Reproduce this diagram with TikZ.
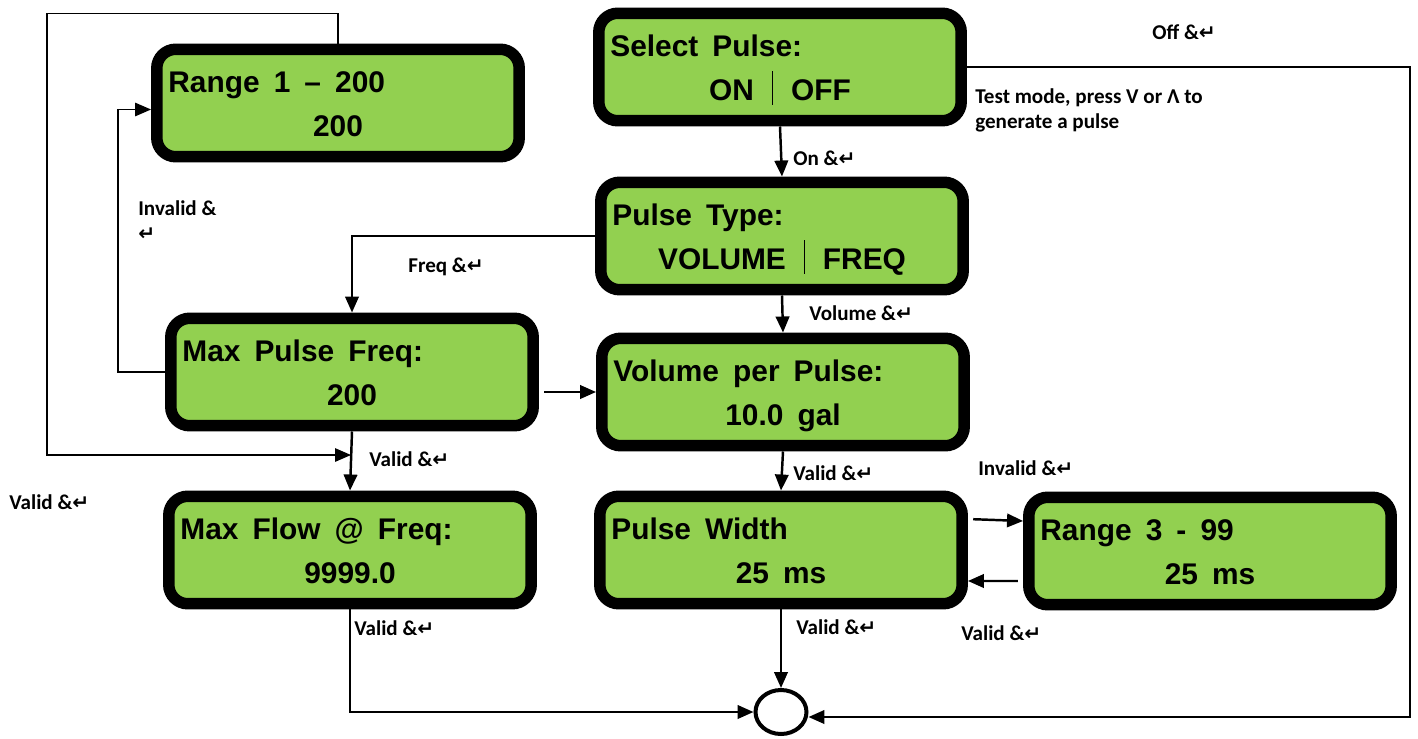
\documentclass[tikz,border=0pt]{standalone}
\usepackage{fontspec}
\setmainfont{Carlito}
\newfontfamily\lcdfont[WordSpace=1.7]{Liberation Sans}
\newfontfamily\symfont{DejaVu Sans}
\usetikzlibrary{arrows.meta,shapes.geometric}
\definecolor{lcdgreen}{HTML}{92D050}
\newcommand{\ent}{{\symfont\bfseries\fontsize{11.5}{12}\selectfont ↵}}
\newcommand{\lcdbar}{\hspace{0.6em}\rule[-0.15em]{0.7pt}{1.15em}\hspace{0.6em}}
\tikzset{
	lcd/.style={draw=black, fill=lcdgreen, line width=0.23cm, rounded corners=0.38cm, minimum width=7.25cm, minimum height=2.15cm, inner sep=0pt},
	ttl/.style={font=\lcdfont\bfseries\fontsize{17}{20}\selectfont, inner sep=0pt, anchor=base west},
	val/.style={font=\lcdfont\bfseries\fontsize{17}{20}\selectfont, inner sep=0pt, anchor=base},
	lbl/.style={font=\bfseries\fontsize{12}{14.5}\selectfont, inner sep=0pt, anchor=west, align=left},
	conn/.style={line width=1.4pt},
	wire/.style={line width=0.8pt},
	endc/.style={draw, ellipse, line width=0.08cm, minimum width=1.02cm, minimum height=0.88cm, inner sep=0pt}
}
\begin{document}
\begin{tikzpicture}[x=0.02cm, y=-0.02cm, >={Triangle[length=0.32cm, width=0.27cm]}]
	\useasboundingbox (0,0) rectangle (1418,738);
	\foreach \n/\x/\y/\a/\b in {rng1/338/103/{Range 1 – 200}/200, sel/780/67/{Select Pulse:}/{ON\lcdbar OFF}, ptype/782/236/{Pulse Type:}/{VOLUME\lcdbar FREQ}, maxpf/352/372/{Max Pulse Freq:}/200, vol/783/392/{Volume per Pulse:}/{10.0 gal}, maxfl/350/550/{Max Flow @ Freq:}/{9999.0}, pw/781/550/{Pulse Width}/{25 ms}, rng3/1210/551/{Range 3 - 99}/{25 ms}} {
		\node[lcd] (\n) at (\x,\y) {};
		\node[ttl] (\n-t) at ([xshift=0.34cm, yshift=0.22cm]\n.west) {\a};
		\node[val] (\n-v) at ([yshift=-0.67cm]\n.center) {\b};
	}
	\node[endc] (done) at (781,712) {};
	\draw[->, conn] (sel.south) -- (ptype.north);
	\draw[->, conn] (ptype.south) -- (vol.north);
	\draw[->, conn] (ptype.west) -| (maxpf.north);
	\draw[->, conn, shorten <=3pt] (maxpf.east |- vol.west) -- (vol.west);
	\draw[->, conn] (maxpf.south) -- (maxfl.north);
	\draw[->, conn] (vol.south) -- (pw.north);
	\draw[->, conn] (pw.south) -- (done.north);
	\draw[->, conn] (maxfl.south) |- (done.west);
	\draw[->, conn, shorten <=3pt] ([yshift=0.62cm]pw.east) -- ([yshift=0.6cm]rng3.west);
	\draw[->, conn, shorten <=3pt] ([yshift=-0.6cm]rng3.west) -- ([yshift=-0.62cm]pw.east);
	\coordinate (turn) at (1410,67);
	\draw[->, conn] (sel.east) -- (turn) |- ([yshift=-0.1cm]done.east);
	\coordinate (vj) at (351,455);
	\draw[->, wire] (rng1.north) -- ++(0,-30) -| (47,455) -- (vj);
	\draw[->, wire] (maxpf.west) -- ++(-47,0) |- ([yshift=-0.13cm]rng1.west);
	\node[lbl] (l-off) at (1152,32) {Off \&\ent};
	\node[lbl, anchor=north west] (l-test) at (975,88) {Test mode, press V or Λ to\\generate a pulse};
	\node[lbl] (l-on) at (793,158) {On \&\ent};
	\node[lbl] (l-vol) at (809,313) {Volume \&\ent};
	\node[lbl] (l-freq) at (408,267) {Freq \&\ent};
	\node[lbl, anchor=north west] (l-inv1) at (138,200) {Invalid \&\\\ent};
	\node[lbl] (l-ok1) at (369,459) {Valid \&\ent};
	\node[lbl] (l-ok2) at (9,502) {Valid \&\ent};
	\node[lbl] (l-ok3) at (354,628) {Valid \&\ent};
	\node[lbl] (l-ok4) at (793,473) {Valid \&\ent};
	\node[lbl] (l-ok5) at (796,627) {Valid \&\ent};
	\node[lbl] (l-inv2) at (978,468) {Invalid \&\ent};
	\node[lbl] (l-ok6) at (961,633) {Valid \&\ent};
\end{tikzpicture}
\end{document}
